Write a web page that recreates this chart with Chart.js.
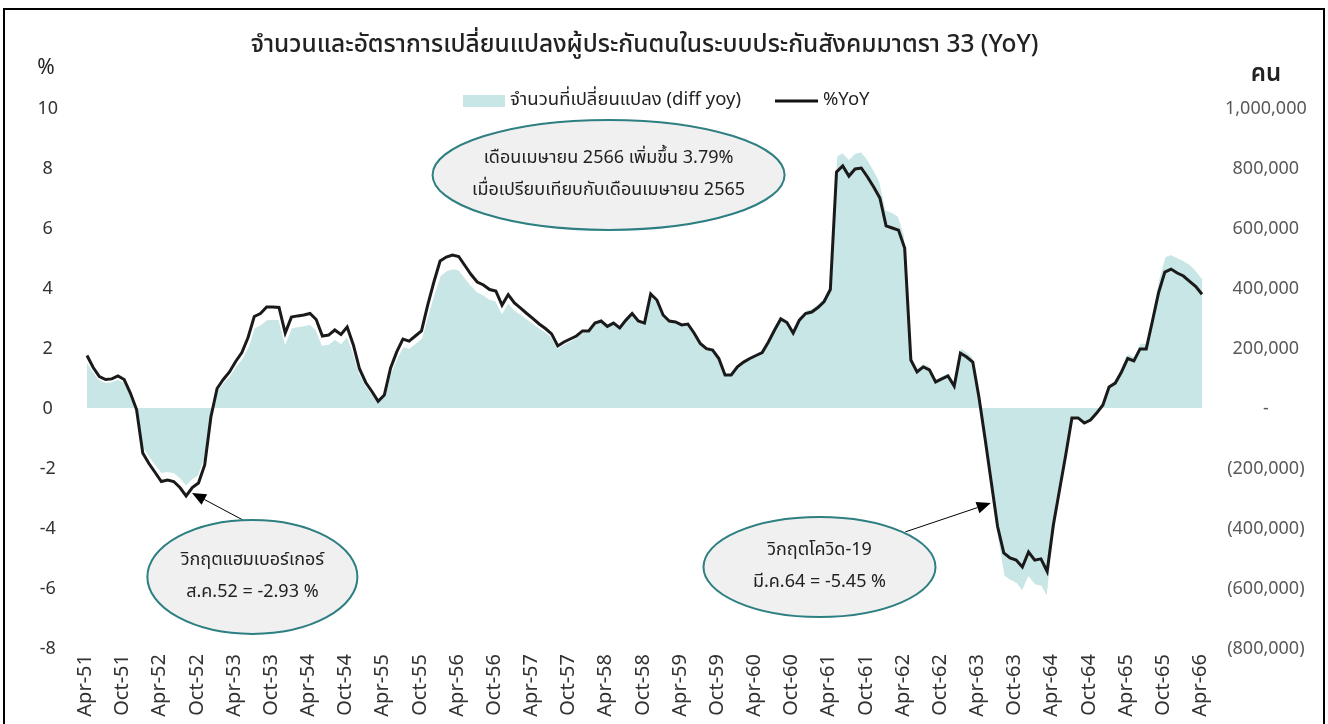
<!DOCTYPE html>
<html><head><meta charset="utf-8">
<script src="https://cdn.jsdelivr.net/npm/chart.js@4.4.1/dist/chart.umd.min.js"></script>
<style>
html,body{margin:0;padding:0;background:#fff;}
#wrap{position:relative;width:1328px;height:724px;overflow:hidden;background:#fff;}
#frame{position:absolute;left:3px;top:8px;width:1322px;height:740px;border:2px solid #000;box-sizing:border-box;pointer-events:none;}
canvas{position:absolute;left:0;top:0;}
</style></head><body>
<div id="wrap"><canvas id="c" width="1328" height="724"></canvas><div id="frame"></div></div>
<script>
// ---- categories ----
const monthNames = ['Jan','Feb','Mar','Apr','May','Jun','Jul','Aug','Sep','Oct','Nov','Dec'];
const startYear = 51, startMonth = 3, monthCount = 181;
const categories = [];
for (let k = 0; k < monthCount; k++) {
  const m = (startMonth + k) % 12, y = startYear + Math.floor((startMonth + k) / 12);
  categories.push(monthNames[m] + '-' + y);
}
// ---- series: %YoY (left axis) ----
const pctYoY = [
 1.75,1.35,1.05,0.95,0.97,1.07,0.95,0.50,-0.05,-1.50,
 -1.85,-2.15,-2.45,-2.40,-2.45,-2.65,-2.93,-2.65,-2.50,-1.90,
 -0.30,0.65,0.95,1.20,1.55,1.85,2.35,3.05,3.15,3.37,
 3.37,3.35,2.50,3.03,3.07,3.10,3.15,2.95,2.40,2.43,
 2.60,2.45,2.70,2.10,1.30,0.85,0.55,0.22,0.43,1.33,
 1.87,2.30,2.23,2.40,2.57,3.43,4.20,4.90,5.03,5.10,
 5.05,4.75,4.45,4.20,4.10,3.95,3.90,3.43,3.78,3.50,
 3.33,3.15,2.98,2.80,2.65,2.47,2.07,2.20,2.30,2.40,
 2.57,2.57,2.83,2.90,2.72,2.83,2.67,2.93,3.15,2.90,
 2.83,3.80,3.60,3.10,2.90,2.87,2.77,2.80,2.50,2.15,
 1.98,1.93,1.65,1.10,1.10,1.37,1.53,1.65,1.75,1.85,
 2.20,2.60,2.97,2.85,2.50,2.93,3.15,3.20,3.35,3.55,
 3.95,7.87,8.07,7.73,7.97,8.00,7.70,7.37,7.00,6.07,
 6.00,5.93,5.33,1.60,1.20,1.37,1.27,0.87,0.97,1.07,
 0.73,1.83,1.70,1.53,0.35,-1.05,-2.50,-3.95,-4.83,-5.00,
 -5.07,-5.30,-4.80,-5.07,-5.03,-5.45,-3.90,-2.73,-1.57,-0.33,
 -0.33,-0.50,-0.40,-0.17,0.10,0.70,0.83,1.20,1.65,1.57,
 1.97,1.97,2.90,3.85,4.53,4.63,4.50,4.40,4.22,4.05,
 3.79
];
// ---- series: change in insured persons (right axis) ----
const diffYoY = [
 155000,122000,95000,86000,88000,97000,86000,45000,-5000,-135000,
 -167000,-194000,-220000,-216000,-220000,-238000,-262000,-240000,-227000,-172000,
 -28000,58000,85000,108000,140000,165000,205000,268000,278000,295000,
 297000,296000,218000,268000,272000,275000,280000,262000,210000,213000,
 230000,216000,240000,186000,116000,76000,49000,20000,39000,118000,
 166000,205000,200000,216000,233000,310000,380000,442000,458000,465000,
 462000,436000,410000,388000,378000,363000,358000,318000,352000,328000,
 314000,298000,283000,268000,255000,238000,200000,214000,224000,235000,
 253000,253000,280000,288000,270000,281000,266000,292000,314000,290000,
 283000,380000,360000,310000,290000,287000,278000,281000,251000,216000,
 199000,195000,167000,112000,112000,140000,157000,169000,180000,190000,
 226000,267000,306000,294000,258000,302000,326000,332000,348000,370000,
 412000,840000,852000,830000,850000,855000,830000,795000,755000,660000,
 652000,640000,575000,175000,133000,150000,140000,97000,108000,119000,
 82000,202000,188000,170000,40000,-115000,-275000,-435000,-560000,-575000,
 -585000,-612000,-565000,-590000,-595000,-633000,-445000,-305000,-175000,-36000,
 -36000,-55000,-44000,-18000,11000,77000,92000,133000,182000,172000,
 217000,217000,322000,430000,505000,512000,502000,492000,480000,460000,
 433000
];
// ---- texts ----
const titleText = 'จำนวนและอัตราการเปลี่ยนแปลงผู้ประกันตนในระบบประกันสังคมมาตรา 33 (YoY)';
const seriesNames = ['จำนวนที่เปลี่ยนแปลง (diff yoy)', '%YoY'];
const leftUnit = '%', rightUnit = 'คน';
const leftTicks = {min: -8, max: 10, step: 2};
const rightTicks = {min: -800000, max: 1000000, step: 200000};
const labelEvery = 6;
// annotation callouts, anchored in data coordinates (month index, % value)
const callouts = [
  {lines: ['วิกฤตแฮมเบอร์เกอร์', 'ส.ค.52 = -2.93 %'], at: [26.7, -5.63], arrow: [[25.5, -3.77], [16.95, -2.83]]},
  {lines: ['วิกฤตโควิด-19', 'มี.ค.64 = -5.45 %'], at: [118.25, -5.3], arrow: [[132.1, -4.13], [145.9, -3.17]]},
  {lines: ['เดือนเมษายน 2566 เพิ่มขึ้น 3.79%', 'เมื่อเปรียบเทียบกับเดือนเมษายน 2565'], at: [84.2, 7.77], arrow: null}
];
const calloutSize = [[105, 57], [116, 50], [176, 55]];

const AREA = '#c8e6e6';
const FONT = "Tahoma, 'Noto Sans Thai', 'DejaVu Sans', sans-serif";

function fmtRight(v) {
  if (v === 0) return '-';
  const s = Math.abs(v).toLocaleString('en-US');
  return v < 0 ? '(' + s + ')' : s;
}

const decor = {
  id: 'decor',
  afterDraw(chart) {
    const ctx = chart.ctx, xs = chart.scales.x, yl = chart.scales.yL;
    const ca = chart.chartArea;
    ctx.save();
    // title
    ctx.fillStyle = '#222';
    ctx.font = '500 24.5px ' + FONT;
    ctx.textAlign = 'center'; ctx.textBaseline = 'middle';
    ctx.fillText(titleText, (ca.left + ca.right) / 2, 47);
    // unit labels
    ctx.font = '21px ' + FONT; ctx.fillStyle = '#222';
    ctx.fillText(leftUnit, 46, 70);
    ctx.font = '600 24px ' + FONT;
    ctx.fillText(rightUnit, 1266, 76);
    // legend
    ctx.font = '18.5px ' + FONT; ctx.textAlign = 'left';
    ctx.fillStyle = AREA; ctx.fillRect(463, 95, 42, 12);
    ctx.fillStyle = '#222'; ctx.fillText(seriesNames[0], 510, 101);
    ctx.strokeStyle = '#111'; ctx.lineWidth = 3;
    ctx.beginPath(); ctx.moveTo(775, 101); ctx.lineTo(818, 101); ctx.stroke();
    ctx.fillText(seriesNames[1], 823, 101);
    // callouts
    callouts.forEach((c, k) => {
      const cx = xs.getPixelForValue(c.at[0]), cy = yl.getPixelForValue(c.at[1]);
      const [rx, ry] = calloutSize[k];
      if (c.arrow) {
        const x1 = xs.getPixelForValue(c.arrow[0][0]), y1 = yl.getPixelForValue(c.arrow[0][1]);
        const x2 = xs.getPixelForValue(c.arrow[1][0]), y2 = yl.getPixelForValue(c.arrow[1][1]);
        const a = Math.atan2(y2 - y1, x2 - x1), L = 14, W = 6;
        ctx.strokeStyle = '#000'; ctx.lineWidth = 1;
        ctx.beginPath(); ctx.moveTo(x1, y1); ctx.lineTo(x2 - L * Math.cos(a), y2 - L * Math.sin(a)); ctx.stroke();
        ctx.fillStyle = '#000';
        ctx.beginPath(); ctx.moveTo(x2, y2);
        ctx.lineTo(x2 - L * Math.cos(a) + W * Math.sin(a), y2 - L * Math.sin(a) - W * Math.cos(a));
        ctx.lineTo(x2 - L * Math.cos(a) - W * Math.sin(a), y2 - L * Math.sin(a) + W * Math.cos(a));
        ctx.closePath(); ctx.fill();
      }
      ctx.beginPath(); ctx.ellipse(cx, cy, rx, ry, 0, 0, Math.PI * 2);
      ctx.fillStyle = '#f0f0f0'; ctx.fill();
      ctx.strokeStyle = '#2e7f82'; ctx.lineWidth = 2; ctx.stroke();
      ctx.fillStyle = '#222'; ctx.font = '18px ' + FONT; ctx.textAlign = 'center'; ctx.textBaseline = 'middle';
      ctx.fillText(c.lines[0], cx, cy - 16);
      ctx.fillText(c.lines[1], cx, cy + 16);
    });
    ctx.restore();
  }
};

new Chart(document.getElementById('c'), {
  type: 'line',
  data: {
    labels: categories,
    datasets: [
      {label: seriesNames[1], data: pctYoY, yAxisID: 'yL', borderColor: '#1a1a1a', borderWidth: 3,
       pointRadius: 0, fill: false, tension: 0, order: 1},
      {label: seriesNames[0], data: diffYoY, yAxisID: 'yR', borderColor: '#ffffff', borderWidth: 1.5,
       backgroundColor: AREA, pointRadius: 0, fill: 'origin', tension: 0, order: 2}
    ]
  },
  options: {
    responsive: false, animation: false, devicePixelRatio: 1,
    layout: {padding: {top: 108, left: 0, right: 0, bottom: 0}},
    plugins: {legend: {display: false}, title: {display: false}, tooltip: {enabled: false}},
    scales: {
      x: {
        grid: {display: false, drawTicks: false}, border: {display: false},
        ticks: {autoSkip: false, maxRotation: 90, minRotation: 90, padding: 6, color: '#333',
          font: {family: FONT, size: 20},
          callback: (v, i) => (i % labelEvery === 0 ? categories[i] : '')},
        afterFit: s => { s.height = 76; }
      },
      yL: {
        position: 'left', min: leftTicks.min, max: leftTicks.max,
        grid: {display: false, drawTicks: false}, border: {display: false},
        ticks: {stepSize: leftTicks.step, crossAlign: 'center', padding: 29, labelOffset: 2, color: '#333',
          font: {family: FONT, size: 18}},
        afterFit: s => { s.width = 87; }
      },
      yR: {
        position: 'right', min: rightTicks.min, max: rightTicks.max,
        grid: {display: false, drawTicks: false}, border: {display: false},
        ticks: {stepSize: rightTicks.step, crossAlign: 'center', padding: 23, labelOffset: 2, color: '#595959',
          font: {family: FONT, size: 18}, callback: v => fmtRight(v)},
        afterFit: s => { s.width = 126; }
      }
    }
  },
  plugins: [decor]
});
</script>
</body></html>
